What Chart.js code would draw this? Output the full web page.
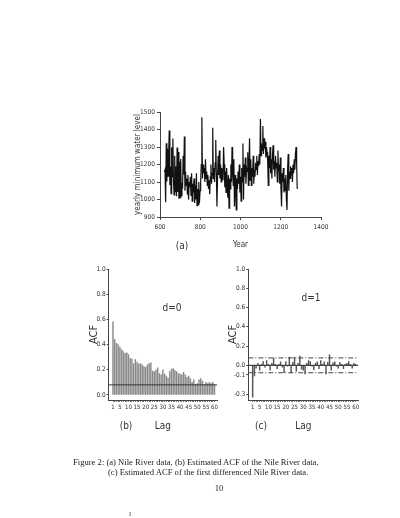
<!DOCTYPE html>
<html>
<head>
<meta charset="utf-8">
<script src="https://cdn.jsdelivr.net/npm/chart.js@4"></script>
<style>
html,body{margin:0;padding:0;background:#fff;}
body{width:400px;height:518px;position:relative;overflow:hidden;}
canvas{position:absolute;}
.t{position:absolute;white-space:nowrap;color:#333;font-family:'Liberation Sans Narrow','DejaVu Sans Condensed','Liberation Sans',Arial,sans-serif;transform:translate(-50%,-50%);line-height:1;}
.cap{position:absolute;white-space:nowrap;color:#222;font-family:'Liberation Serif','DejaVu Serif',serif;font-size:8.6px;line-height:1;}
</style>
</head>
<body>
<canvas id="ca" width="240" height="160" style="left:100px;top:100px"></canvas>
<canvas id="cb" width="200" height="180" style="left:20px;top:255px"></canvas>
<canvas id="cc" width="190" height="180" style="left:205px;top:255px"></canvas>

<div class="t" style="left:182px;top:246px;font-size:10px">(a)</div>
<div class="t" style="left:126px;top:426px;font-size:10px">(b)</div>
<div class="t" style="left:261px;top:426px;font-size:10px">(c)</div>
<div class="t" style="left:172px;top:308px;font-size:10px">d=0</div>
<div class="t" style="left:311px;top:298px;font-size:10px">d=1</div>

<div class="cap" style="left:73px;top:458px">Figure 2: (a) Nile River data, (b) Estimated ACF of the Nile River data,</div>
<div class="cap" style="left:108px;top:468px">(c) Estimated ACF of the first differenced Nile River data.</div>
<div class="cap" style="left:219px;top:488px;transform:translate(-50%,-50%)">10</div>
<div class="cap" style="left:130px;top:514px;transform:translate(-50%,-50%);font-size:8px;color:#444">ı</div>

<script>
// ---------- data ----------
const years = [
622,625,628,631,634,637,640,643,646,649,
652,655,658,661,664,667,670,673,676,679,
682,685,688,691,694,697,700,703,706,709,
712,715,718,721,724,727,730,733,736,739,
742,745,748,751,754,757,760,763,766,769,
772,775,778,781,784,787,790,793,796,799,
802,805,808,811,814,817,820,823,826,829,
832,835,838,841,844,847,850,853,856,859,
862,865,868,871,874,877,880,883,886,889,
892,895,898,901,904,907,910,913,916,919,
922,925,928,931,934,937,940,943,946,949,
952,955,958,961,964,967,970,973,976,979,
982,985,988,991,994,997,1000,1003,1006,1009,
1012,1015,1018,1021,1024,1027,1030,1033,1036,1039,
1042,1045,1048,1051,1054,1057,1060,1063,1066,1069,
1072,1075,1078,1081,1084,1087,1090,1093,1096,1099,
1102,1105,1108,1111,1114,1117,1120,1123,1126,1129,
1132,1135,1138,1141,1144,1147,1150,1153,1156,1159,
1162,1165,1168,1171,1174,1177,1180,1183,1186,1189,
1192,1195,1198,1201,1204,1207,1210,1213,1216,1219,
1222,1225,1228,1231,1234,1237,1240,1243,1246,1249,
1252,1255,1258,1261,1264,1267,1270,1273,1276,1279,1282
];
const nileMin = [
1157,1169,984,1322,1103,1292,1133,1259,1394,1083,
1189,1034,1299,1130,1349,1103,1027,1250,1047,1189,
1018,1297,1043,1272,1004,1216,1011,1232,1022,1094,
1061,1250,1143,1360,1050,1160,1080,1120,1030,1140,
1000,1100,1070,1130,1020,1150,990,1090,1040,1120,
980,1080,1000,1150,965,1060,970,1100,980,1050,
1100,1200,1470,1120,1200,1150,1180,1100,1230,1120,
1160,1080,1140,1060,1110,1030,1130,1200,1090,1150,
1410,1120,1180,1100,1210,1340,1150,960,1130,1250,
1140,1280,1120,1200,1100,1180,1150,1110,1300,1200,
1070,1160,1040,1180,1090,1010,1140,950,1120,1060,
1200,1100,1300,1150,1080,1230,960,1140,1050,940,
1120,1060,1160,1090,1200,1040,1130,990,1180,1100,
1320,1000,1200,1130,1240,1090,1180,1160,1270,1080,
1200,1350,1110,1230,1080,1180,1130,1250,1090,1170,
1130,1210,1170,1250,1140,1220,1190,1260,1200,1460,
1250,1320,1280,1420,1260,1350,1290,1330,1240,1300,
1270,1220,1080,1250,1180,1300,1150,1230,1120,1260,
1310,1170,1220,1130,1250,1180,1210,1100,1280,1160,
1200,1090,1240,1060,960,1150,1100,1180,1040,1120,
1050,1140,1000,940,1170,1260,1050,1160,1120,1190,
1140,1180,1100,1200,1150,1230,1170,1260,1300,1200,1060
];
const yearTicks = [600,800,1000,1200,1400];
const levelTicks = [900,1000,1100,1200,1300,1400,1500];

const lags = [1,2,3,4,5,6,7,8,9,10,11,12,13,14,15,16,17,18,19,20,
21,22,23,24,25,26,27,28,29,30,31,32,33,34,35,36,37,38,39,40,
41,42,43,44,45,46,47,48,49,50,51,52,53,54,55,56,57,58,59,60];
const lagLabels = [1,5,10,15,20,25,30,35,40,45,50,55,60];
const acfD0 = [
0.58,0.44,0.41,0.40,0.38,0.36,0.345,0.33,0.335,0.32,
0.29,0.285,0.25,0.28,0.26,0.245,0.25,0.24,0.225,0.22,
0.24,0.25,0.255,0.19,0.185,0.20,0.215,0.17,0.16,0.20,
0.165,0.15,0.135,0.185,0.205,0.21,0.195,0.185,0.17,0.165,
0.16,0.18,0.16,0.14,0.15,0.13,0.10,0.12,0.08,0.09,
0.12,0.13,0.11,0.08,0.10,0.09,0.10,0.09,0.10,0.08
];
const acfD1 = [
-0.33,-0.11,-0.03,0.02,-0.05,0.01,0.04,-0.02,0.05,0.01,
-0.05,0.02,0.075,0.01,-0.035,0.01,0.035,-0.02,-0.075,0.04,
-0.01,0.085,-0.075,0.03,0.085,-0.06,0.02,0.095,-0.04,-0.05,
-0.09,0.02,0.05,0.04,-0.01,-0.045,0.02,0.035,-0.035,0.05,
0.01,0.035,-0.09,0.03,0.11,-0.05,0.025,0.035,-0.01,-0.03,
0.03,0.01,-0.035,0.01,0.02,0.04,0.01,-0.03,0.02,0.01
];
const acfTicksB = [0,0.2,0.4,0.6,0.8,1.0];
const acfTicksC = [-0.3,-0.1,0,0.2,0.4,0.6,0.8,1.0];
const bandB = 0.08;
const bandC = 0.077;

// ---------- styling ----------
const NARROW = "'Liberation Sans Narrow','DejaVu Sans Condensed','Liberation Sans',Arial,sans-serif";
const AX = '#444', TXT = '#333';

function fixedTicks(list){ return s => { s.ticks = list.map(v => ({value: v})); }; }

// ---------- (a) Nile series ----------
new Chart(document.getElementById('ca'), {
  type: 'line',
  data: { datasets: [{
    data: years.map((y, i) => ({x: y, y: nileMin[i]})),
    borderColor: '#111', borderWidth: 1.2, pointRadius: 0, tension: 0, fill: false
  }]},
  options: {
    responsive: false, animation: false, devicePixelRatio: 1,
    layout: { padding: { left: 0, top: 12, right: 19, bottom: 0 } },
    plugins: { legend: {display: false}, tooltip: {enabled: false} },
    scales: {
      x: {
        type: 'linear', min: 600, max: 1400,
        afterBuildTicks: fixedTicks(yearTicks),
        afterFit: s => { s.height = 43; },
        grid: { drawOnChartArea: false, tickLength: 3, color: AX },
        border: { color: AX },
        ticks: { font: {family: NARROW, size: 6.5}, color: TXT, padding: 3, maxRotation: 0, autoSkip: false,
                 callback: v => String(v) },
        title: { display: true, text: 'Year', font: {family: NARROW, size: 8}, color: TXT, padding: {top: 0, bottom: 10.2} }
      },
      y: {
        min: 900, max: 1500,
        afterBuildTicks: fixedTicks(levelTicks),
        afterFit: s => { s.width = 60; },
        grid: { drawOnChartArea: false, tickLength: 3, color: AX },
        border: { color: AX },
        ticks: { font: {family: NARROW, size: 6.5}, color: TXT, padding: 2, autoSkip: false,
                 callback: v => String(v) },
        title: { display: true, text: 'yearly minimum water level', font: {family: NARROW, size: 8}, color: TXT, padding: {top: 33, bottom: 0} }
      }
    }
  }
});

// ---------- ACF charts ----------
function acfChart(id, values, yMin, yTicks, bands, opts) {
  const lineSets = bands.map(b => ({
    type: 'line',
    data: [{x: -1.5, y: b.y}, {x: 61.5, y: b.y}],
    borderColor: b.color, borderWidth: 1, borderDash: b.dash || [], pointRadius: 0, order: 0
  }));
  return new Chart(document.getElementById(id), {
    type: 'bar',
    data: { datasets: [{
      type: 'bar',
      data: lags.map((l, i) => ({x: l, y: values[i]})),
      backgroundColor: opts.barColor, borderWidth: 0, barThickness: opts.barW, order: 1
    }].concat(lineSets)},
    options: {
      responsive: false, animation: false, devicePixelRatio: 1,
      layout: { padding: { left: 0, top: 14, right: opts.padRight, bottom: 0 } },
      plugins: { legend: {display: false}, tooltip: {enabled: false} },
      scales: {
        x: {
          type: 'linear', min: -1.5, max: 61.5, offset: false,
          afterBuildTicks: fixedTicks(lags),
          afterFit: s => { s.height = 35; },
          grid: { offset: false, drawOnChartArea: false, tickLength: 2, color: '#777' },
          border: { color: AX },
          ticks: { font: {family: NARROW, size: 6}, color: TXT, padding: 2, maxRotation: 0, autoSkip: false,
                   callback: v => lagLabels.includes(v) ? String(v) : '' },
          title: { display: true, text: 'Lag', font: {family: NARROW, size: 10}, color: TXT, padding: {top: 0, bottom: 3} }
        },
        y: {
          min: yMin, max: 1.0, beginAtZero: false,
          afterBuildTicks: fixedTicks(yTicks),
          afterFit: s => { s.width = opts.yWidth; },
          grid: { drawOnChartArea: false, tickLength: 2, color: AX },
          border: { color: AX },
          ticks: { font: {family: NARROW, size: 6.5}, color: TXT, padding: 1, autoSkip: false,
                   callback: v => Number(v).toFixed(1) },
          title: { display: true, text: 'ACF', font: {family: NARROW, size: 11}, color: TXT, padding: {top: opts.titlePad, bottom: 0} }
        }
      }
    }
  });
}

acfChart('cb', acfD0, -0.04, acfTicksB,
  [{y: bandB, color: '#333'}],
  {barColor: '#8a8a8a', barW: 0.8, padRight: 2.9, yWidth: 88.7, titlePad: 67.4});

acfChart('cc', acfD1, -0.36, acfTicksC,
  [{y: 0, color: '#222'}, {y: bandC, color: '#444', dash: [5, 2, 1, 2]}, {y: -bandC, color: '#444', dash: [5, 2, 1, 2]}],
  {barColor: '#555', barW: 0.8, padRight: 36.7, yWidth: 43.3, titlePad: 21.4});
</script>
</body>
</html>
